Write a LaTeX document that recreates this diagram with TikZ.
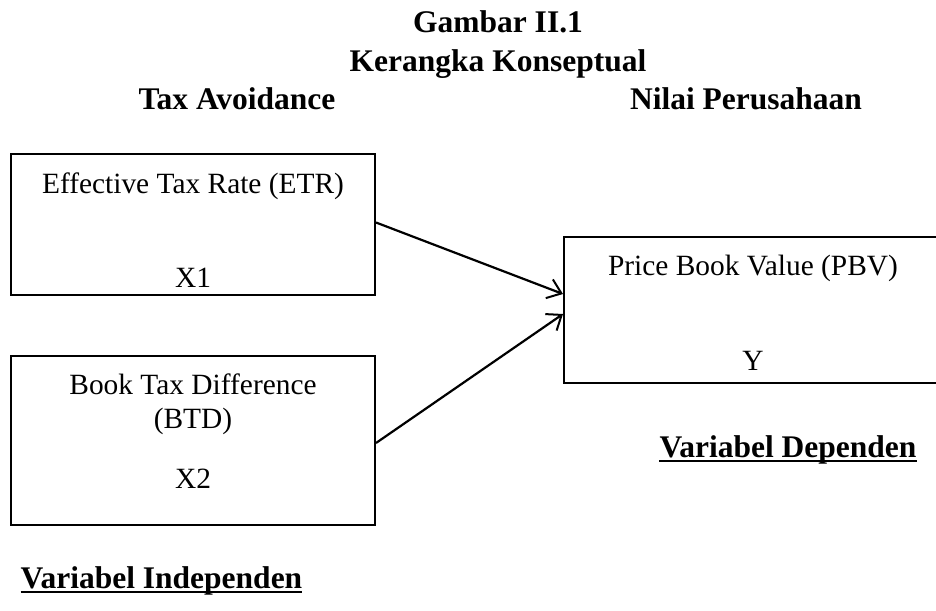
\documentclass[tikz,border=0pt]{standalone}
\usepackage{fontspec}
\setmainfont{Liberation Serif}
\usetikzlibrary{arrows.meta}
\begin{document}
\begin{tikzpicture}[x=1pt,y=-1pt,
  box/.style={draw, line width=2pt, inner sep=0pt},
  reg/.style={font=\fontsize{29.4}{34}\selectfont, anchor=base, inner sep=0pt},
  hd/.style={font=\bfseries\fontsize{31.5}{36}\selectfont, anchor=base, inner sep=0pt},
  conn/.style={line width=2.2pt, -{Straight Barb[length=13pt,width=20pt,line width=2pt]}},
  uline/.style={line width=2.6pt}]
\useasboundingbox (0,0) rectangle (936,610);
\clip (0,0) rectangle (936,610);
% titles
\node[hd] (t1) at (498,33) {Gambar II.1};
\node[hd] (t2) at (498,71) {Kerangka Konseptual};
\node[hd] (h1) at (237,109) {Tax Avoidance};
\node[hd] (h2) at (746,109) {Nilai Perusahaan};
% boxes
\node[box, minimum width=364pt, minimum height=141pt] (b1) at (193,224.5) {};
\node[box, minimum width=364pt, minimum height=169pt] (b2) at (193,440.5) {};
\node[box, minimum width=378pt, minimum height=146pt] (b3) at (753,310) {};
% box texts
\node[reg] (l1) at (193,193) {Effective Tax Rate (ETR)};
\node[reg] (x1) at (193,287) {X1};
\node[reg] (l2) at (193,394) {Book Tax Difference};
\node[reg] (l2b) at (193,428) {(BTD)};
\node[reg] (x2) at (193,488) {X2};
\node[reg] (l3) at (753,275) {Price Book Value (PBV)};
\node[reg] (y1) at (753,370) {Y};
% connectors
\draw[conn] ([yshift=2pt]b1.east) -- ([yshift=16pt]b3.west);
\draw[conn] ([yshift=-2.5pt]b2.east) -- ([yshift=-4pt]b3.west);
% underlined labels
\node[hd] (vd) at (788,457) {Variabel Dependen};
\draw[uline] ([yshift=-4pt]vd.base west) -- ([yshift=-4pt]vd.base east);
\node[hd] (vi) at (161.5,588) {Variabel Independen};
\draw[uline] ([yshift=-4pt]vi.base west) -- ([yshift=-4pt]vi.base east);
\end{tikzpicture}
\end{document}
